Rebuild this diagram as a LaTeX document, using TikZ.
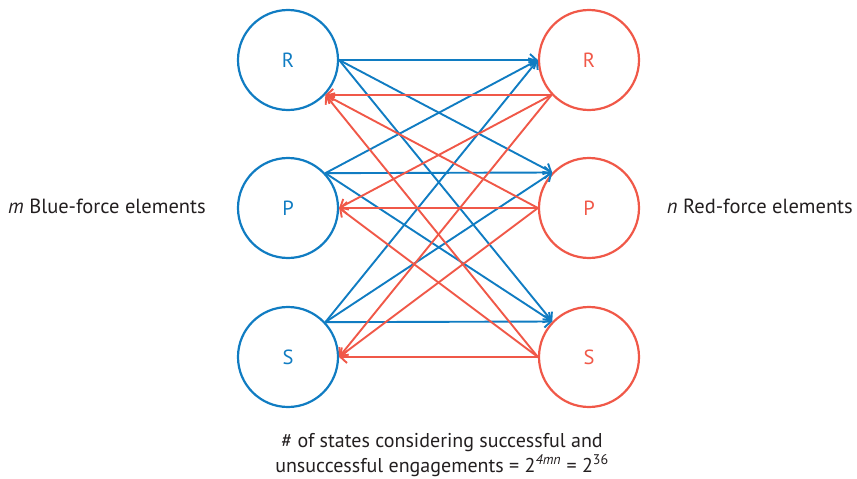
\documentclass[tikz,border=0pt]{standalone}
\usepackage{fontspec}
\setmainfont{PT Sans}
\usetikzlibrary{arrows.meta}
\definecolor{bluef}{RGB}{16,124,194}
\definecolor{redf}{RGB}{240,88,72}
\definecolor{txt}{RGB}{35,31,32}
\begin{document}
\begin{tikzpicture}[x=1pt,y=-1pt,
  force/.style={circle,draw,line width=2.2pt,minimum size=100pt,inner sep=0pt,font=\fontsize{20.5}{24}\selectfont},
  bnode/.style={force,draw=bluef,text=bluef},
  rnode/.style={force,draw=redf,text=redf},
  barrow/.style={draw=bluef,line width=1.9pt,-{Straight Barb[length=6.5pt,width=12pt]}},
  rarrow/.style={draw=redf,line width=1.9pt,-{Straight Barb[length=6.5pt,width=12pt]}},
  lbl/.style={text=txt,font=\fontsize{20.5}{24}\selectfont,inner sep=0pt}]
\useasboundingbox (0,0) rectangle (857,479);
\node[bnode] (bR) at (288,60) {R};
\node[bnode] (bP) at (288,208) {P};
\node[bnode] (bS) at (288,357) {S};
\node[rnode] (rR) at (589,60) {R};
\node[rnode] (rP) at (589,208) {P};
\node[rnode] (rS) at (589,357) {S};
% blue arrows
\foreach \s/\sa in {bR/0,bP/43.3,bS/43.3}
  \foreach \t/\ta in {rR/180,rP/136.7,rS/136.7}
    \draw[barrow] (\s.\sa) -- (\t.\ta);
% red arrows
\foreach \s/\sa in {rR/223.3,rP/180,rS/180}
  \foreach \t/\ta in {bR/-43.3,bP/0,bS/0}
    \draw[rarrow] (\s.\sa) -- (\t.\ta);
\node[lbl,anchor=base west] (lm) at (8,213) {\textit{m} Blue-force elements};
\node[lbl,anchor=base east] (ln) at (853,213) {\textit{n} Red-force elements};
\node[lbl,font=\fontsize{20}{24}\selectfont,anchor=base] (l1) at (442,447) {\# of states considering successful and};
\node[lbl,font=\fontsize{20}{24}\selectfont,anchor=base] (l2) at (442,472) {unsuccessful engagements = 2\textsuperscript{\textit{4mn}} = 2\textsuperscript{36}};
\end{tikzpicture}
\end{document}
